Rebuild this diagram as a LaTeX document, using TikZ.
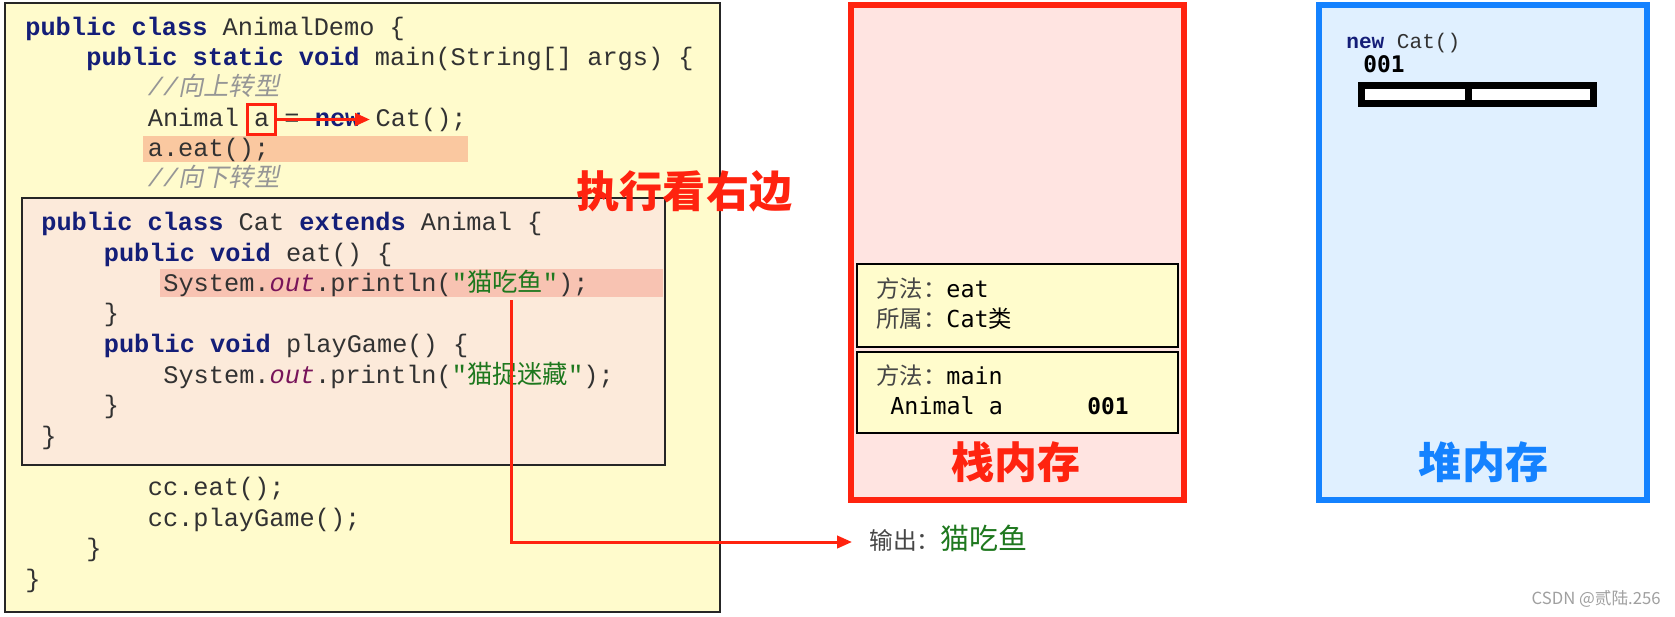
\documentclass[tikz,border=0pt]{standalone}
\usepackage{fontspec}
\usepackage{xcolor}
\setmonofont{Liberation Mono}
\newfontfamily\cjkfont{Noto Sans CJK SC}
\newfontfamily\cjkslant[FakeSlant=0.2]{Noto Sans CJK SC}
\newfontfamily\framemono{DejaVu Sans Mono}
\definecolor{codebg}{RGB}{255, 251, 204}
\definecolor{catbg}{RGB}{252, 234, 218}
\definecolor{hlorange}{RGB}{250, 200, 160}
\definecolor{hlpink}{RGB}{248, 195, 178}
\definecolor{redline}{RGB}{255, 35, 15}
\definecolor{stackbg}{RGB}{255, 228, 225}
\definecolor{framebg}{RGB}{255, 252, 204}
\definecolor{heapblue}{RGB}{20, 130, 255}
\definecolor{heapbg}{RGB}{224, 240, 255}
\definecolor{kwblue}{RGB}{20, 30, 120}
\definecolor{strgreen}{RGB}{30, 120, 30}
\definecolor{fldpurple}{RGB}{120, 20, 90}
\definecolor{cmtgray}{RGB}{150, 150, 150}
\definecolor{codetext}{RGB}{50, 50, 50}
\definecolor{cngray}{RGB}{70, 70, 70}
\definecolor{wmgray}{RGB}{160, 160, 160}
\usepackage{tikz}
\usetikzlibrary{arrows.meta}

\newcommand{\kw}[1]{{\bfseries\color{kwblue}#1}}
\newcommand{\fld}[1]{{\itshape\color{fldpurple}#1}}
\newcommand{\cmt}[1]{{\itshape\color{cmtgray}//{\cjkslant #1}}}
\newcommand{\strcn}[1]{{\color{strgreen}"{\cjkfont #1}"}}

\begin{document}
\begin{tikzpicture}[
    x=0.02cm, y=-0.02cm,
    codeline/.style={anchor=west, inner sep=0pt, text height=11.5pt, text depth=3pt, font=\ttfamily\fontsize{14.4}{17}\selectfont, text=codetext},
    panel/.style={rectangle, draw=black!85, line width=1.3pt, inner sep=0pt},
    marker/.style={rectangle, inner sep=0pt},
    framebox/.style={rectangle, draw=black, line width=1.3pt, fill=framebg, inner sep=0pt, minimum width=6.42cm},
    frametext/.style={anchor=west, inner sep=0pt, text height=10.6pt, text depth=2.6pt, font=\framemono\fontsize{13.3}{16}\selectfont},
    memlabel/.style={inner sep=0pt, font=\cjkfont\bfseries\fontsize{24.5}{28}\selectfont},
    arrow/.style={line width=1.7pt, redline, -{Triangle[length=8.5pt, width=7pt]}}
]
\useasboundingbox (0,0) rectangle (1675,616);
\fill[white] (0,0) rectangle (1675,616);

% Code panels
\node (codepanel) [panel, fill=codebg, minimum width=14.3cm, minimum height=12.18cm] at (362.5,307.5) {};
\node (hleat) [marker, fill=hlorange, minimum width=6.5cm, minimum height=0.52cm] at (305.5,149) {};
\node (catpanel) [panel, fill=catbg, line width=1.6pt, minimum width=12.86cm, minimum height=5.34cm] at (343.5,331.5) {};
\node (hlprint) [marker, fill=hlpink, minimum width=10.06cm, minimum height=0.56cm] at (411.5,283) {};

% Code lines
\node (cls) [codeline] at (25,28) {\kw{public class} AnimalDemo \{};
\node (mainm) [codeline] at (86,58) {\kw{public static void} main(String[] args) \{};
\node (cup) [codeline] at (147.5,88.5) {\cmt{向上转型}};
\node (decl) [codeline] at (147.5,119.5) {Animal a = \kw{new} Cat();};
\node (calleat) [codeline] at (147.5,149) {a.eat();};
\node (cdown) [codeline] at (147.5,179.5) {\cmt{向下转型}};
\node (catcls) [codeline] at (41,223) {\kw{public class} Cat \kw{extends} Animal \{};
\node (eatm) [codeline] at (103.5,254) {\kw{public void} eat() \{};
\node (eatprint) [codeline] at (163,284) {System.\fld{out}.println(\strcn{猫吃鱼});};
\node (eatend) [codeline] at (103.5,314) {\}};
\node (playm) [codeline] at (103.5,345) {\kw{public void} playGame() \{};
\node (playprint) [codeline] at (163,376) {System.\fld{out}.println(\strcn{猫捉迷藏});};
\node (playend) [codeline] at (103.5,406) {\}};
\node (catend) [codeline] at (41,437) {\}};
\node (cceat) [codeline] at (147.5,488) {cc.eat();};
\node (ccplay) [codeline] at (147.5,519) {cc.playGame();};
\node (mainend) [codeline] at (86,549) {\}};
\node (clsend) [codeline] at (25,580) {\}};

% Reference a -> new Cat()
\node (abox) [draw=redline, line width=1.7pt, minimum width=0.56cm, minimum height=0.6cm, inner sep=0pt] at (261.5,119.5) {};
\coordinate (newcat) at (370,119.5);
\draw [arrow, line width=2pt] (abox.east) -- (newcat);

\node (runright) [memlabel, text=redline] at (684.5,191) {执行看右边};

% Stack memory
\node (stack) [rectangle, draw=redline, line width=3.2pt, fill=stackbg, minimum width=6.66cm, minimum height=9.9cm] at (1017.5,252.5) {};
\node (eatframe) [framebox, minimum height=1.66cm] at (1017.5,305.5) {};
\node (mainframe) [framebox, minimum height=1.62cm] at (1017.5,392.5) {};
\node (eatname) [frametext] at (876,290) {{\cjkfont\color{cngray}方法：}eat};
\node (eatowner) [frametext] at (876,320) {{\cjkfont\color{cngray}所属：}Cat{\cjkfont 类}};
\node (mainname) [frametext] at (876,377) {{\cjkfont\color{cngray}方法：}main};
\node (avar) [frametext] at (890,407) {Animal a};
\node (aval) [frametext, font=\framemono\bfseries\fontsize{13}{16}\selectfont] at (1087,407) {001};
\node (stacklbl) [memlabel, text=redline] at (1016,462) {栈内存};

% Heap memory
\node (heap) [rectangle, draw=heapblue, line width=3.2pt, fill=heapbg, minimum width=6.56cm, minimum height=9.9cm] at (1483,252.5) {};
\node (heapobj) [anchor=west, inner sep=0pt, text height=9pt, text depth=2.5pt, font=\ttfamily\fontsize{12}{14}\selectfont, text=codetext] at (1346,43) {\kw{new} Cat()};
\node (heapaddr) [frametext, font=\framemono\bfseries\fontsize{13}{16}\selectfont] at (1363,65) {001};
\node (bar) [rectangle, draw=black, line width=4pt, fill=white, minimum width=4.64cm, minimum height=0.36cm, inner sep=0pt] at (1477.5,94.5) {};
\draw [line width=4pt] (1468,85.5) -- (1468,103.5);
\node (heaplbl) [memlabel, text=heapblue] at (1483.5,462) {堆内存};

% Output
\coordinate (fishsrc) at (511,300);
\node (out) [anchor=west, inner sep=0pt, text height=12pt, text depth=3pt, font=\cjkfont\fontsize{13.5}{16}\selectfont, text=cngray] at (869,542) {输出：{\fontsize{16.5}{19}\selectfont\color{strgreen}猫吃鱼}};
\draw [arrow] (fishsrc) |- ([xshift=-0.34cm]out.west);

\node (mark) [anchor=east, inner sep=0pt, font=\cjkfont\fontsize{9.5}{11}\selectfont, text=wmgray] at (1661,599) {CSDN @贰陆.256};

\end{tikzpicture}
\end{document}
